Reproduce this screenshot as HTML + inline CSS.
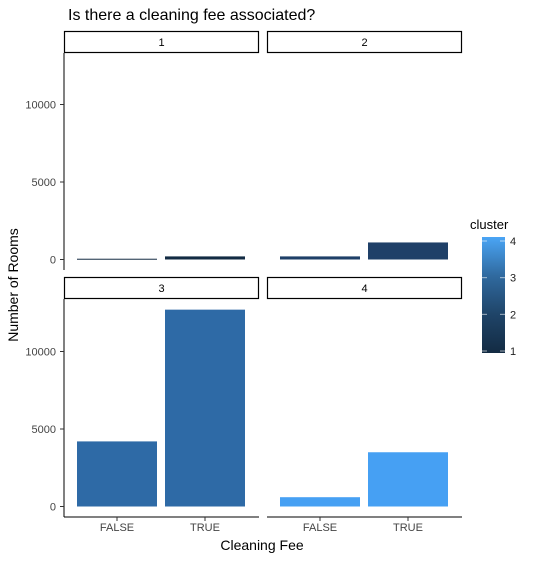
<!DOCTYPE html>
<html><head><meta charset="utf-8"><style>
body{margin:0;background:#fff;font-family:"Liberation Sans",sans-serif}
</style></head><body>
<svg id="c" width="540" height="558" xmlns="http://www.w3.org/2000/svg" font-family="Liberation Sans, sans-serif">
<defs><linearGradient id="g" x1="0" y1="1" x2="0" y2="0"><stop offset="0" stop-color="#132B43"/><stop offset="0.333" stop-color="#1f4468"/><stop offset="0.667" stop-color="#306a9f"/><stop offset="1" stop-color="#4aa5f5"/></linearGradient></defs>
<text x="68" y="20" font-size="16">Is there a cleaning fee associated?</text>
<g id="panels"></g>
<text x="262" y="550" font-size="14" text-anchor="middle">Cleaning Fee</text>
<text transform="translate(18,285) rotate(-90)" font-size="14" text-anchor="middle">Number of Rooms</text>
<text x="470" y="229" font-size="13">cluster</text>
<rect x="482" y="237" width="23" height="116" fill="url(#g)"/>
<g id="leg"></g>
</svg>
<script>
const clusters=[1,2,3,4];
const categories=["FALSE","TRUE"];
const values=[[50,200],[200,1100],[4200,12700],[600,3500]];
const yTicks=[0,5000,10000];
const colors=["#132B43","#1f4068","#2e6aa6","#46a0f3"];
const NS="http://www.w3.org/2000/svg";
const g=document.getElementById('panels');
function mk(t,a,p){const e=document.createElementNS(NS,t);for(const k in a)e.setAttribute(k,a[k]);(p||g).appendChild(e);return e;}
const px=[64,267], pw=195;
const zeroY=[259.5,506.5], stripY=[31,277];
const sc=77.5/5000;
function yS(v,row){return zeroY[row]-v*sc;}
function xS(i,col){return px[col]+13+i*88;}
clusters.forEach((cl,k)=>{
  const row=Math.floor(k/2), col=k%2;
  const s=mk('rect',{x:px[col]+0.5,y:stripY[row]+0.5,width:pw-1,height:21,fill:'#fff',stroke:'#000','stroke-width':1.2});
  
  
  const t=mk('text',{x:px[col]+pw/2,y:stripY[row]+15,'font-size':11,'text-anchor':'middle'});
  t.textContent=cl;
  
  
  values[k].forEach((v,i)=>{
    const y=yS(v,row);
    const b=mk('rect',{x:xS(i,col),y:y,width:80,height:Math.max(1,zeroY[row]-y),fill:colors[k]});
    
    
  });
});
for(let row=0;row<2;row++){
  const top=stripY[row]+22, bot=row?517:270;
  const a=mk('line',{x1:64,x2:64,y1:top,y2:bot,stroke:'#000','stroke-width':1});
  
  
  yTicks.forEach(v=>{
    const y=yS(v,row);
    mk('line',{x1:60,x2:64,y1:y,y2:y,stroke:'#333'});
    const t=mk('text',{x:56,y:y+4,'font-size':11,'text-anchor':'end',fill:'#444'});
    t.textContent=v;
    
    
  });
}
[0,1].forEach(col=>{
  const a=mk('line',{x1:px[col],x2:px[col]+pw,y1:517,y2:517,stroke:'#000'});
  
  
  categories.forEach((c,i)=>{
    const x=xS(i,col)+40;
    mk('line',{x1:x,x2:x,y1:517,y2:521,stroke:'#333'});
    const t=mk('text',{x:x,y:531,'font-size':11,'text-anchor':'middle',fill:'#444'});
    t.textContent=c;
    
    
  });
});
const lg=document.getElementById('leg');
clusters.forEach(cl=>{
  const y=351-(cl-1)*(110/3);
  mk('line',{x1:482,x2:487,y1:y,y2:y,stroke:'#fff','stroke-opacity':0.6},lg);
  mk('line',{x1:500,x2:505,y1:y,y2:y,stroke:'#fff','stroke-opacity':0.6},lg);
  const t=mk('text',{x:510,y:y+4,'font-size':11,fill:'#222'},lg);
  t.textContent=cl;
  
  
});
</script>
</body></html>
